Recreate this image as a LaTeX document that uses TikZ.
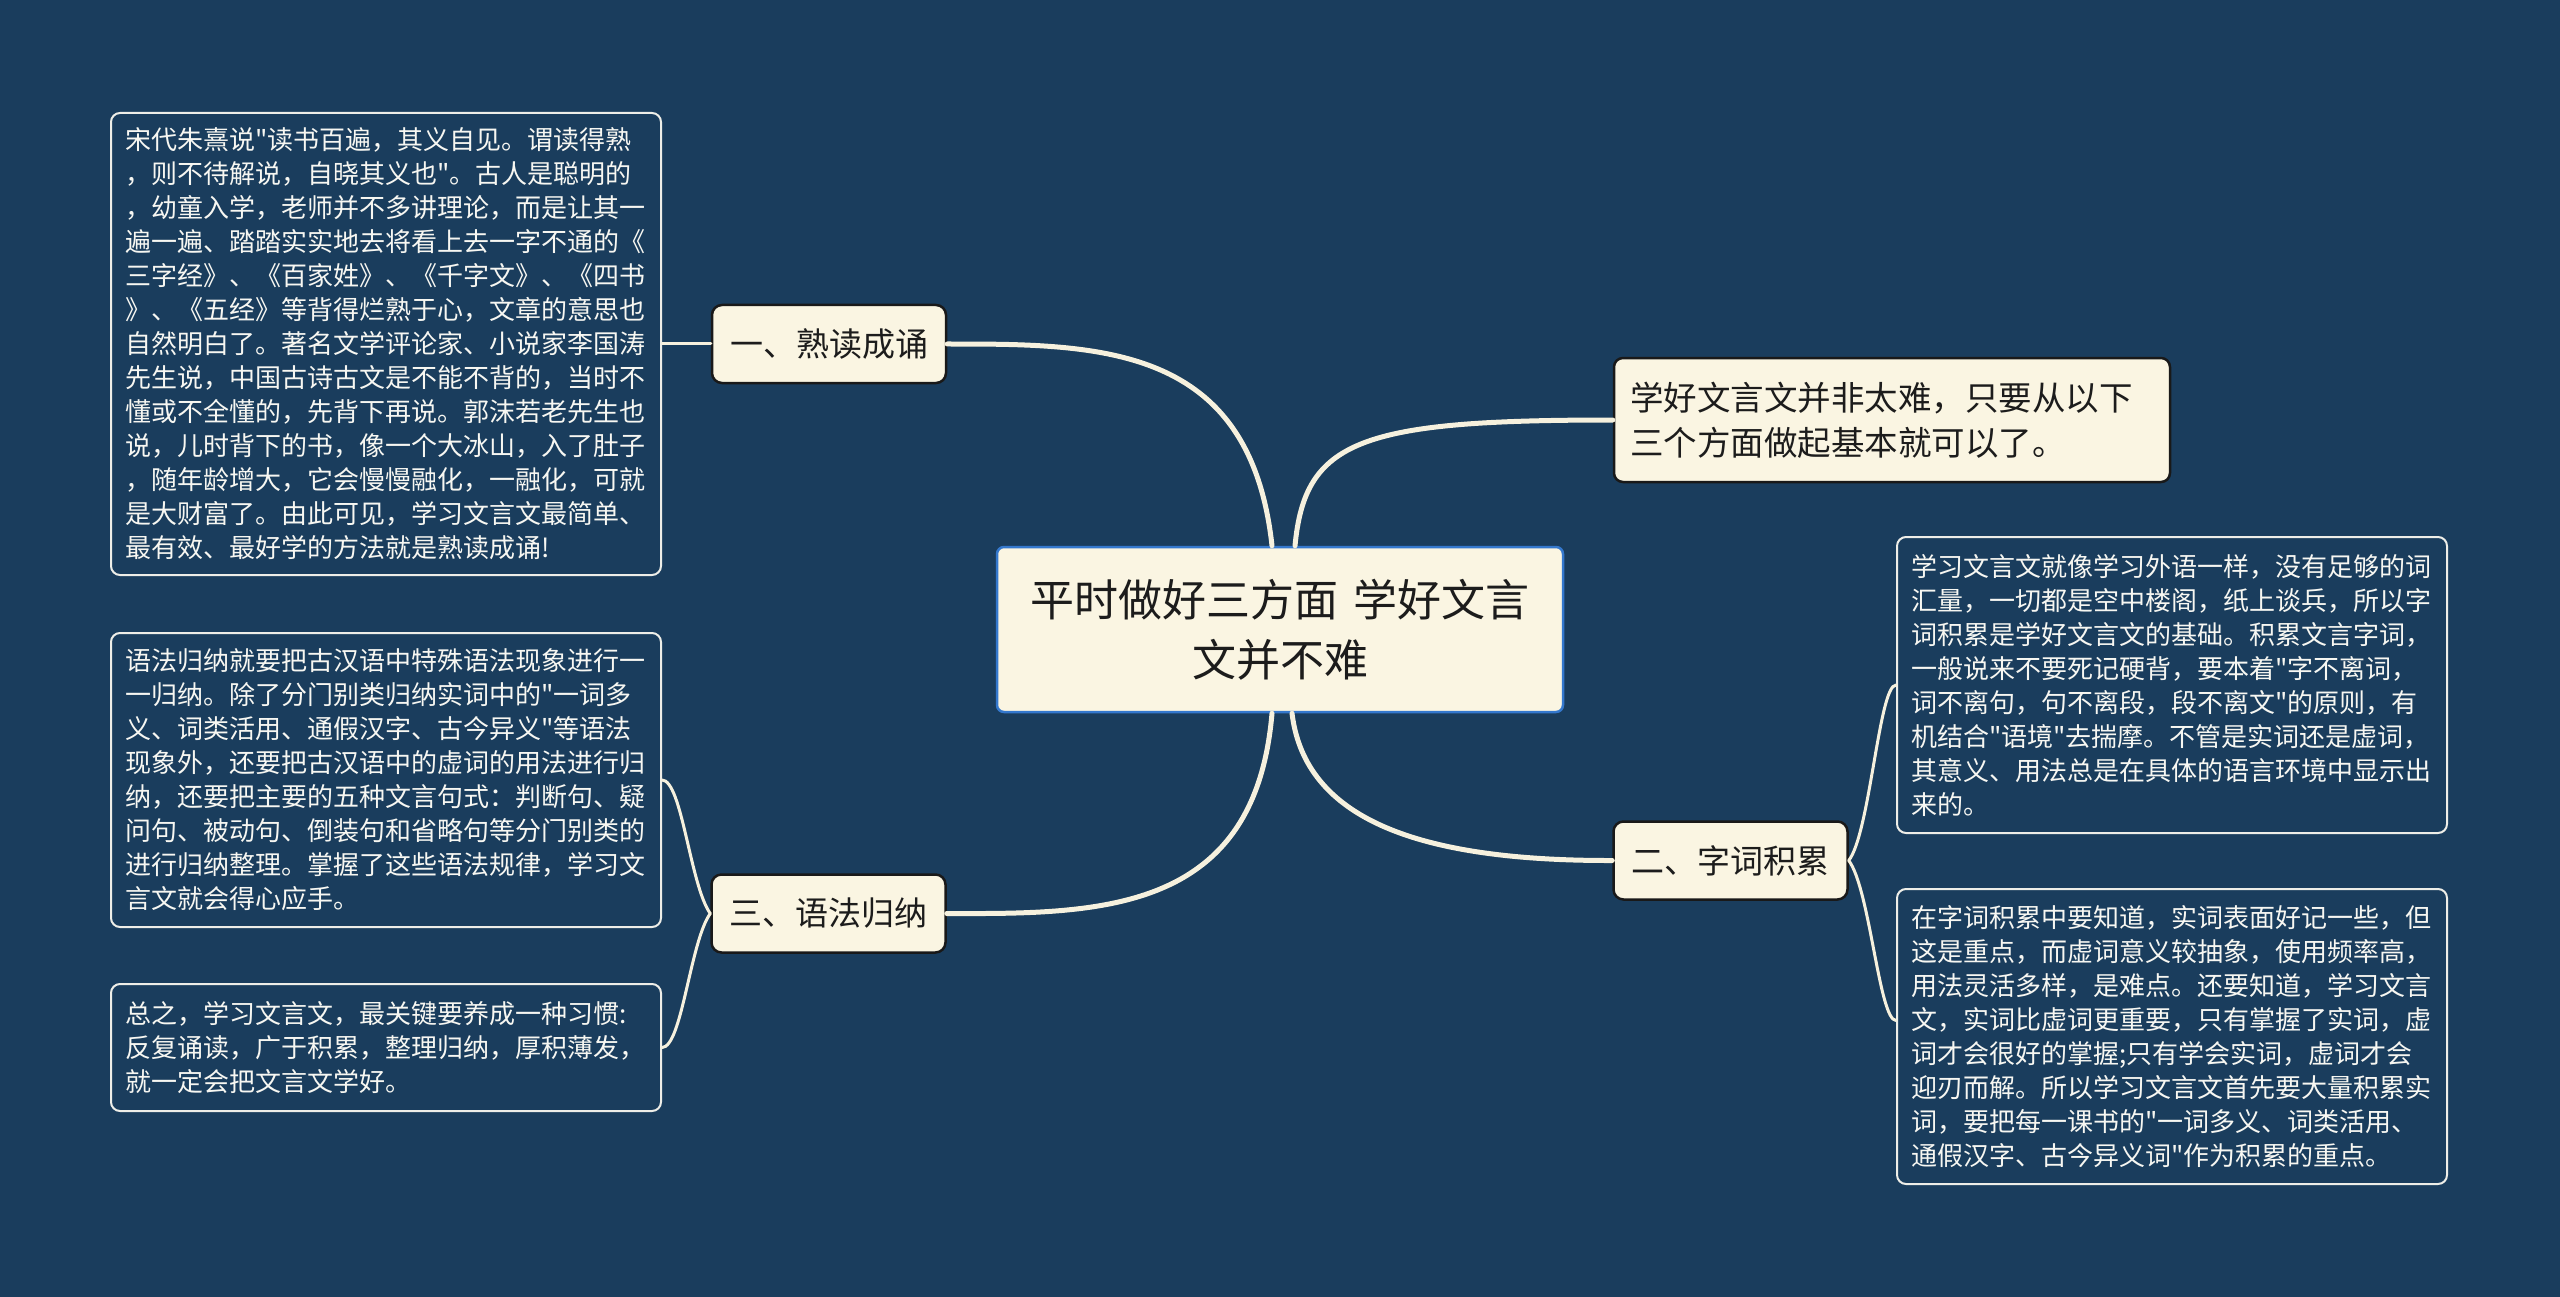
\documentclass[tikz,border=0pt]{standalone}
\usepackage{fontspec}
\setmainfont{Noto Sans CJK SC}[Ligatures=TeXOff]
\definecolor{bg}{RGB}{26,61,93}
\definecolor{cream}{RGB}{250,245,226}
\definecolor{wire}{RGB}{246,241,222}
\definecolor{rootborder}{RGB}{52,120,205}
\definecolor{boxline}{RGB}{238,238,232}
\definecolor{boxtext}{RGB}{247,247,242}
\definecolor{darktext}{RGB}{28,28,28}
\begin{document}
\begin{tikzpicture}[x=1pt,y=-1pt,
  rootnode/.style={draw=rootborder, line width=2.5pt, fill=cream, rounded corners=7pt,
    minimum width=566pt, minimum height=165pt, text width=540pt, align=center, inner sep=0pt,
    text=darktext, font=\fontsize{44pt}{60pt}\selectfont},
  intronode/.style={draw=black!90, line width=2.5pt, fill=cream, rounded corners=9pt,
    minimum width=556pt, minimum height=124pt, text width=524pt, align=left, inner xsep=16pt, inner ysep=0pt,
    text=darktext, font=\fontsize{33.5pt}{45pt}\selectfont},
  branchnode/.style={draw=black!90, line width=2.5pt, fill=cream, rounded corners=10pt,
    minimum width=234pt, minimum height=78pt, inner sep=0pt,
    text=darktext, font=\fontsize{33pt}{40pt}\selectfont},
  detailnode/.style={draw=boxline, line width=2pt, fill=bg, rounded corners=9pt,
    text width=522pt, inner xsep=14pt, inner ysep=0pt, align=left,
    text=boxtext, font=\fontsize{26pt}{34pt}\selectfont},
  mainwire/.style={draw=wire, line width=5pt, line cap=round},
  thinwire/.style={draw=wire, line width=3pt, line cap=round}
]
\fill[bg] (0,0) rectangle (2560,1297);
\useasboundingbox (0,0) rectangle (2560,1297);

% nodes
\node[rootnode] (root) at (1280,629.5) {平时做好三方面 学好文言\\文并不难};
\node[intronode] (intro) at (1892,420) {学好文言文并非太难，只要从以下\\三个方面做起基本就可以了。};
\node[branchnode] (b1) at (829,344) {一、熟读成诵};
\node[branchnode] (b2) at (1730.5,860.5) {二、字词积累};
\node[branchnode] (b3) at (828.5,913.5) {三、语法归纳};

\node[detailnode, minimum height=462pt] (l1) at (386,344) {宋代朱熹说"读书百遍，其义自见。谓读得熟\\，则不待解说，自晓其义也"。古人是聪明的\\，幼童入学，老师并不多讲理论，而是让其一\\遍一遍、踏踏实实地去将看上去一字不通的《\\三字经》、《百家姓》、《千字文》、《四书\\》、《五经》等背得烂熟于心，文章的意思也\\自然明白了。著名文学评论家、小说家李国涛\\先生说，中国古诗古文是不能不背的，当时不\\懂或不全懂的，先背下再说。郭沫若老先生也\\说，儿时背下的书，像一个大冰山，入了肚子\\，随年龄增大，它会慢慢融化，一融化，可就\\是大财富了。由此可见，学习文言文最简单、\\最有效、最好学的方法就是熟读成诵!};
\node[detailnode, minimum height=294pt] (l2) at (386,780) {语法归纳就要把古汉语中特殊语法现象进行一\\一归纳。除了分门别类归纳实词中的"一词多\\义、词类活用、通假汉字、古今异义"等语法\\现象外，还要把古汉语中的虚词的用法进行归\\纳，还要把主要的五种文言句式：判断句、疑\\问句、被动句、倒装句和省略句等分门别类的\\进行归纳整理。掌握了这些语法规律，学习文\\言文就会得心应手。};
\node[detailnode, minimum height=127pt] (l3) at (386,1047.5) {总之，学习文言文，最关键要养成一种习惯:\\反复诵读，广于积累，整理归纳，厚积薄发，\\就一定会把文言文学好。};
\node[detailnode, minimum height=296pt] (r1) at (2172,685) {学习文言文就像学习外语一样，没有足够的词\\汇量，一切都是空中楼阁，纸上谈兵，所以字\\词积累是学好文言文的基础。积累文言字词，\\一般说来不要死记硬背，要本着"字不离词，\\词不离句，句不离段，段不离文"的原则，有\\机结合"语境"去揣摩。不管是实词还是虚词，\\其意义、用法总是在具体的语言环境中显示出\\来的。};
\node[detailnode, minimum height=295pt] (r2) at (2172,1036.5) {在字词积累中要知道，实词表面好记一些，但\\这是重点，而虚词意义较抽象，使用频率高，\\用法灵活多样，是难点。还要知道，学习文言\\文，实词比虚词更重要，只有掌握了实词，虚\\词才会很好的掌握;只有学会实词，虚词才会\\迎刃而解。所以学习文言文首先要大量积累实\\词，要把每一课书的"一词多义、词类活用、\\通假汉字、古今异义词"作为积累的重点。};

% main connectors
\draw[mainwire] ([xshift=-8pt]root.north) .. controls (1250,344) and (1100,344) .. (b1.east);
\draw[mainwire] ([xshift=15pt]root.north) .. controls (1305,440) and (1360,420) .. (intro.west);
\draw[mainwire] ([xshift=-8pt]root.south) .. controls (1255,914) and (1100,914) .. (b3.east);
\draw[mainwire] ([xshift=12pt]root.south) .. controls (1305,820) and (1420,861) .. (b2.west);

% thin connectors
\draw[thinwire] (b1.west) -- (l1.east);
\draw[thinwire] (b3.west) .. controls (690,885) and (682,780) .. (l2.east);
\draw[thinwire] (b3.west) .. controls (690,942) and (682,1047.5) .. (l3.east);
\draw[thinwire] (b2.east) .. controls (1870,833) and (1879,685) .. (r1.west);
\draw[thinwire] (b2.east) .. controls (1870,889) and (1879,1020) .. ([yshift=16pt]r2.west);
\end{tikzpicture}
\end{document}
